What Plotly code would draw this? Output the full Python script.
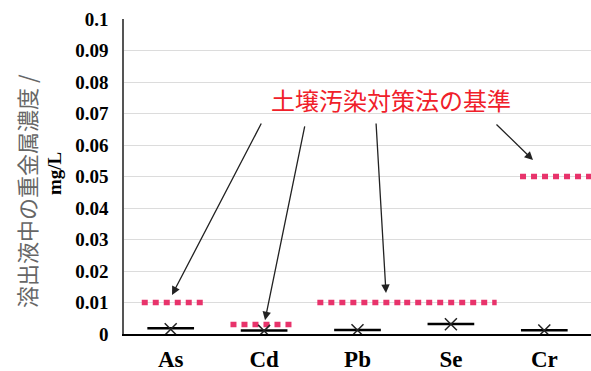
import plotly.graph_objects as go

# Heavy metal concentrations in leachate (mg/L)
elements = ["As", "Cd", "Pb", "Se", "Cr"]
median_vals = [0.0018, 0.0011, 0.0013, 0.0032, 0.0012]
mean_vals = [0.0015, 0.0010, 0.0012, 0.0031, 0.0011]

# Soil Contamination Countermeasures Act standards (mg/L)
std_vals = [0.010, 0.003, 0.010, 0.010, 0.050]
# horizontal extent of each standard line, as offsets from the category position
std_spans = [(-0.31, 0.37), (-0.36, 0.31), (-0.43, 0.50), (-0.50, 0.49), (-0.26, 0.50)]

y_ticks = [0, 0.01, 0.02, 0.03, 0.04, 0.05, 0.06, 0.07, 0.08, 0.09, 0.1]
y_ticktext = ["0", "0.01", "0.02", "0.03", "0.04", "0.05", "0.06", "0.07", "0.08", "0.09", "0.1"]

pos = list(range(len(elements)))
fig = go.Figure()

# standard lines (red dotted)
for i, (v, (a, b)) in enumerate(zip(std_vals, std_spans)):
    fig.add_trace(go.Scatter(
        x=[pos[i] + a, pos[i] + b], y=[v, v], mode="lines",
        line=dict(color="#e8336b", width=5.5, dash="6px,5px"),
        hoverinfo="skip", showlegend=False))

# median bars
mx, my = [], []
for i, v in enumerate(median_vals):
    mx += [pos[i] - 0.25, pos[i] + 0.25, None]
    my += [v, v, None]
fig.add_trace(go.Scatter(x=mx, y=my, mode="lines",
                         line=dict(color="black", width=2.5),
                         showlegend=False, hoverinfo="skip"))

# mean markers
fig.add_trace(go.Scatter(x=pos, y=mean_vals, mode="markers",
                         marker=dict(symbol="x-thin-open", size=12, color="#222",
                                     line=dict(color="#222", width=1.5)),
                         showlegend=False))

# arrows from the label to each standard line: (tail x, tail y, tip x, tip y)
arrows = [
    (0.978, 0.0673, 0.014, 0.0124),
    (1.438, 0.0664, 1.010, 0.0044),
    (2.198, 0.0673, 2.305, 0.0130),
    (3.472, 0.0670, 3.879, 0.0552),
]
for ax_, ay_, x_, y_ in arrows:
    fig.add_annotation(x=x_, y=y_, ax=ax_, ay=ay_, xref="x", yref="y",
                       axref="x", ayref="y", text="", showarrow=True,
                       arrowhead=2, arrowsize=1.3, arrowwidth=1.3,
                       arrowcolor="#222", standoff=0)

fig.add_annotation(x=2.36, y=0.0745, xref="x", yref="y",
                   text="土壌汚染対策法の基準", showarrow=False,
                   font=dict(family="Noto Sans CJK JP", size=24, color="#f0202a"))

W, H = 591, 371
L, R, T, B = 124, 0, 19, 37
pw, ph = W - L - R, H - T - B


def px_to_paper(px, py):
    return (px - L) / pw, (H - B - py) / ph


# y-axis title (two lines)
tx, ty = px_to_paper(26, 191)
fig.add_annotation(x=tx, y=ty, xref="paper", yref="paper",
                   xanchor="center", yanchor="middle",
                   text="溶出液中の重金属濃度 /", showarrow=False, textangle=-90,
                   font=dict(family="Noto Sans CJK JP", size=22, color="#666666"))
tx, ty = px_to_paper(54, 174)
fig.add_annotation(x=tx, y=ty, xref="paper", yref="paper",
                   xanchor="center", yanchor="middle",
                   text="<b>mg/L</b>", showarrow=False, textangle=-90,
                   font=dict(family="Liberation Serif", size=19, color="black"))

fig.update_layout(
    width=W, height=H,
    margin=dict(l=L, r=R, t=T, b=B),
    paper_bgcolor="white", plot_bgcolor="white",
    xaxis=dict(range=[-0.5, 4.5], tickvals=pos, ticktext=["<b>%s</b>" % e for e in elements],
               showgrid=False, showline=True, linecolor="black", linewidth=1.5,
               zeroline=False, ticks="", ticklabelstandoff=4,
               tickfont=dict(family="Liberation Serif", size=23, color="black")),
    yaxis=dict(range=[0, 0.1], tickvals=y_ticks, ticktext=["<b>%s</b>" % t for t in y_ticktext],
               showgrid=True, gridcolor="#dcdcdc", gridwidth=1,
               showline=True, linecolor="#555555", linewidth=1.5,
               zeroline=False, ticks="", ticklabelstandoff=10,
               tickfont=dict(family="Liberation Serif", size=19, color="black")),
)

fig.write_html("out.html")
